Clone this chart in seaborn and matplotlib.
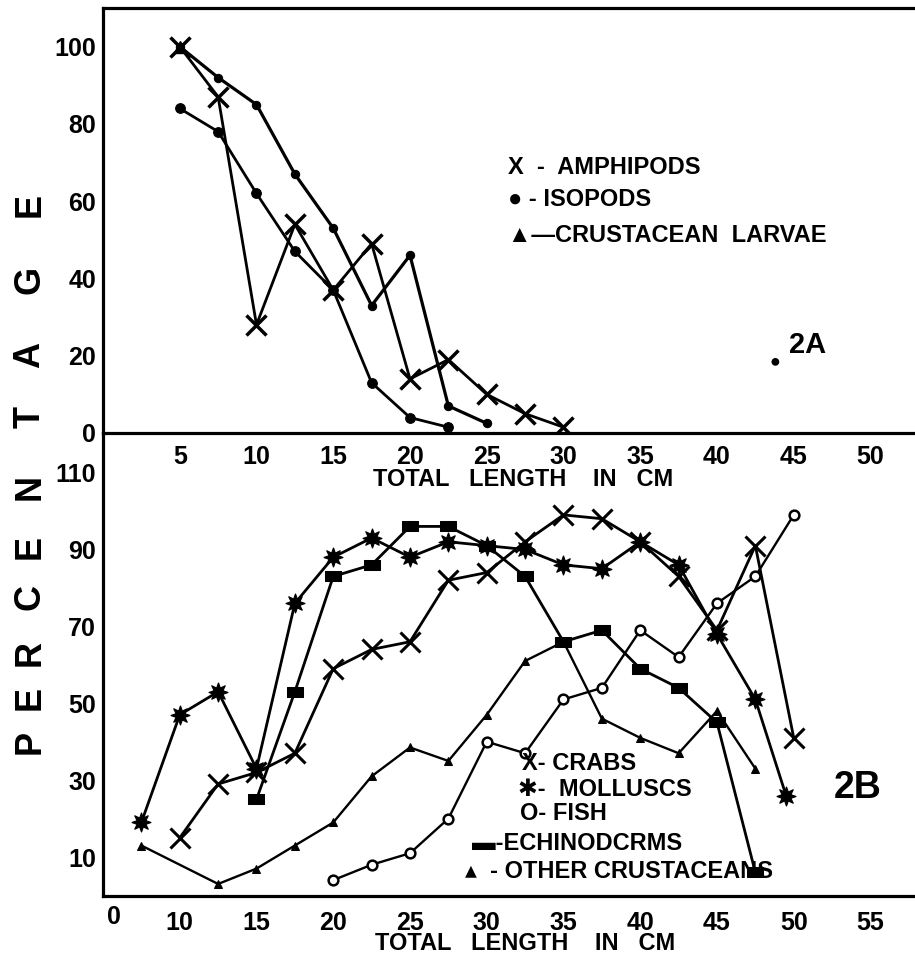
import matplotlib
matplotlib.use('Agg')
import matplotlib.pyplot as plt
import seaborn as sns
import pandas as pd
from matplotlib.path import Path

# ---------------- data ----------------
# Fig 2A (top panel)
amph_x = [5, 7.5, 10, 12.5, 15, 17.5, 20, 22.5, 25, 27.5, 30]
amph_y = [100, 87, 28, 54, 37, 49, 14, 19, 10, 5, 1.5]
iso_x = [5, 7.5, 10, 12.5, 15, 17.5, 20, 22.5]
iso_y = [84, 78, 62, 47, 37, 13, 4, 1.5]
larv_x = [5, 7.5, 10, 12.5, 15, 17.5, 20, 22.5, 25]
larv_y = [100, 92, 85, 67, 53, 33, 46, 7, 2.5]

# Fig 2B (bottom panel)
crab_x = [10, 12.5, 15, 17.5, 20, 22.5, 25, 27.5, 30, 32.5, 35, 37.5, 40, 42.5, 45, 47.5, 50]
crab_y = [15, 29, 32, 37, 59, 64, 66, 82, 84, 92, 99, 98, 92, 83, 69, 91, 41]
moll_x = [7.5, 10, 12.5, 15, 17.5, 20, 22.5, 25, 27.5, 30, 32.5, 35, 37.5, 40, 42.5, 45, 47.5, 49.5]
moll_y = [19, 47, 53, 33, 76, 88, 93, 88, 92, 91, 90, 86, 85, 92, 86, 68, 51, 26]
fish_x = [20, 22.5, 25, 27.5, 30, 32.5, 35, 37.5, 40, 42.5, 45, 47.5, 50]
fish_y = [4, 8, 11, 20, 40, 37, 51, 54, 69, 62, 76, 83, 99]
echi_x = [15, 17.5, 20, 22.5, 25, 27.5, 30, 32.5, 35, 37.5, 40, 42.5, 45, 47.5]
echi_y = [25, 53, 83, 86, 96, 96, 91, 83, 66, 69, 59, 54, 45, 6]
oth_x = [7.5, 12.5, 15, 17.5, 20, 22.5, 25, 27.5, 30, 32.5, 35, 37.5, 40, 42.5, 45, 47.5]
oth_y = [13, 3, 7, 13, 19, 31, 38.5, 35, 47, 61, 66, 46, 41, 37, 48, 33]

top_xticks = [5, 10, 15, 20, 25, 30, 35, 40, 45, 50]
top_yticks = [0, 20, 40, 60, 80, 100]
bot_xticks = [10, 15, 20, 25, 30, 35, 40, 45, 50, 55]
bot_xticklabels = ['10', '15', '20', '25', '30', '35', '40', '45', '50', '55']
bot_yticks = [10, 30, 50, 70, 90, 110]

top_legend = ['X  -  AMPHIPODS', '\u25CF - ISOPODS', '\u25B2\u2014CRUSTACEAN  LARVAE']
bot_legend = ['X- CRABS', '\u2731-  MOLLUSCS', 'O- FISH', '\u25AC-ECHINODCRMS', '\u25B4  - OTHER CRUSTACEANS']
ylabel_letters = ['P', 'E', 'R', 'C', 'E', 'N', 'T', 'A', 'G', 'E']
xlabel_text = 'TOTAL   LENGTH    IN   CM'

# ---------------- style ----------------
sns.set_theme(style='white')
plt.rcParams['font.family'] = ['Liberation Sans', 'DejaVu Sans']
plt.rcParams['font.weight'] = 'bold'

W, H = 915, 960
fig = plt.figure(figsize=(W / 100, H / 100), dpi=100)
fig.patch.set_facecolor('white')


def fx(px):
    return px / W


def fy(py):
    return 1 - py / H


def ftext(px, py, s, **kw):
    kw.setdefault('fontweight', 'bold')
    kw.setdefault('color', 'black')
    return fig.text(fx(px), fy(py), s, **kw)


ax2 = fig.add_axes([fx(103), fy(895.5), fx(915) - fx(103), fy(433) - fy(895.5)])
ax1 = fig.add_axes([fx(103), fy(433), fx(915) - fx(103), fy(8) - fy(433)])

for ax in (ax1, ax2):
    ax.patch.set_alpha(0)
    for s in ax.spines.values():
        s.set_color('black')
        s.set_linewidth(2.3)
    ax.spines['right'].set_visible(False)
    ax.grid(False)

ax2.spines['top'].set_visible(False)
ax1.set_zorder(3)

K = 'black'


def draw(ax, xs, ys, **kw):
    df = pd.DataFrame({'x': xs, 'y': ys})
    sns.lineplot(data=df, x='x', y='y', ax=ax, sort=False, estimator=None,
                 color=K, legend=False, markeredgecolor=K, **kw)


# ----- top panel -----
draw(ax1, larv_x, larv_y, lw=2.3, marker='o', markersize=6, markerfacecolor=K)
draw(ax1, iso_x, iso_y, lw=2.0, marker='o', markersize=7, markerfacecolor=K)
draw(ax1, amph_x, amph_y, lw=2.0, marker='x', markersize=15, markeredgewidth=2.5)
ax1.plot(larv_x[:1], larv_y[:1], linestyle='none', marker='^', markersize=9, color=K)

ax1.set_xlim(0, 52.9)
ax1.set_ylim(0, 110)
ax1.set_xticks(top_xticks)
ax1.set_xticklabels([str(t) for t in top_xticks])
ax1.set_yticks(top_yticks)
ax1.set_yticklabels([str(t) for t in top_yticks])
ax1.set_yticks([10, 30, 50, 70, 90], minor=True)
ax1.tick_params(axis='x', direction='in', length=7, width=2, pad=9, labelsize=18, colors=K)
ax1.tick_params(axis='y', which='both', direction='in', length=5, width=2, pad=5, labelsize=18, colors=K)
ax1.set_xlabel('')
ax1.set_ylabel('')

# ----- bottom panel -----
draw(ax2, oth_x, oth_y, lw=1.7, marker='^', markersize=6, markerfacecolor=K)
draw(ax2, fish_x, fish_y, lw=1.7, marker='o', markersize=7, markerfacecolor='white', markeredgewidth=1.8)
rect = Path([(-1.6, -1), (1.6, -1), (1.6, 1), (-1.6, 1), (-1.6, -1)],
            [Path.MOVETO, Path.LINETO, Path.LINETO, Path.LINETO, Path.CLOSEPOLY])
draw(ax2, echi_x, echi_y, lw=2.0, marker=rect, markersize=12, markerfacecolor=K)
draw(ax2, moll_x, moll_y, lw=2.0, marker=(8, 1, 0), markersize=14, markerfacecolor=K)
draw(ax2, crab_x, crab_y, lw=2.0, marker='x', markersize=14, markeredgewidth=2.2)

ax2.set_xlim(5, 57.9)
ax2.set_ylim(0, 120.3)
ax2.set_xticks(bot_xticks)
ax2.set_xticklabels(bot_xticklabels)
ax2.set_yticks(bot_yticks)
ax2.set_yticklabels([str(t) for t in bot_yticks])
ax2.set_yticks([20, 40, 60, 80, 100, 120], minor=True)
ax2.tick_params(axis='x', direction='in', length=7, width=2, pad=11, labelsize=18, colors=K)
ax2.tick_params(axis='y', which='both', direction='in', length=5, width=2, pad=5, labelsize=18, colors=K)
ax2.set_xlabel('')
ax2.set_ylabel('')
ax2.text(5.7, -0.046, '0', transform=ax2.get_xaxis_transform(), ha='center', va='center',
         fontsize=18, fontweight='bold', color=K)

# ----- axis titles -----
ftext(523, 479, xlabel_text, ha='center', va='center', fontsize=17)
ftext(525, 944, xlabel_text, ha='center', va='center', fontsize=17)

ylabel_py = [742, 698, 653, 597, 547, 487, 417, 355, 280, 205]
for letter, py in zip(ylabel_letters, ylabel_py):
    ftext(30, py, letter, ha='center', va='center', rotation=90, fontsize=26)

# ----- legends (hand-lettered keys) -----
for s, py in zip(top_legend, [168, 200, 236]):
    ftext(508, py, s, ha='left', va='center', fontsize=17)

for s, px, py in zip(bot_legend, [522, 518, 520, 472, 465], [764, 790, 813, 843, 872]):
    ftext(px, py, s, ha='left', va='center', fontsize=17)

# panel ids
ftext(775, 362, '\u25CF', ha='center', va='center', fontsize=13)
ftext(808, 345, '2A', ha='center', va='center', fontsize=21)
ftext(858, 788, '2B', ha='center', va='center', fontsize=27)

fig.savefig('out.png', dpi=100, facecolor='white')
